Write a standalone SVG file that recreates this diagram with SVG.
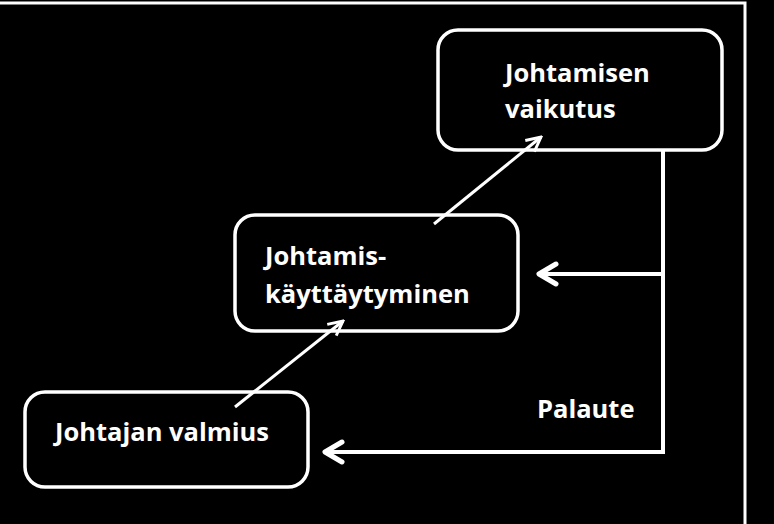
<svg xmlns="http://www.w3.org/2000/svg" width="774" height="524" viewBox="0 0 774 524">
<style>
.box{fill:#000;stroke:#fff;stroke-width:3.5}
.t{font-family:"Open Sans","Liberation Sans",sans-serif;font-weight:bold;font-size:25.5px;fill:#fff}
.c{fill:none;stroke:#fff;stroke-width:3}
.fb{fill:none;stroke:#fff;stroke-width:4}
.hd{fill:none;stroke:#fff;stroke-width:5;stroke-linecap:round;stroke-linejoin:round}
</style>
<defs>
<marker id="a" viewBox="0 0 10 10" refX="9" refY="5" markerWidth="6" markerHeight="6" orient="auto"><path d="M1,1 L9,5 L1,9" fill="none" stroke="#fff" stroke-width="1.6"/></marker>
</defs>
<rect width="774" height="524" fill="#000"/>
<path d="M0,3 H745 V524" fill="none" stroke="#fff" stroke-width="3"/>
<g id="n1"><rect class="box" x="438" y="30" width="284" height="120" rx="20"/>
<text class="t" x="505" y="82">Johtamisen</text><text class="t" x="505" y="118">vaikutus</text></g>
<g id="n2"><rect class="box" x="235" y="215" width="283" height="116" rx="20"/>
<text class="t" x="265" y="265">Johtamis-</text><text class="t" x="265" y="303">käyttäytyminen</text></g>
<g id="n3"><rect class="box" x="25" y="392" width="283" height="95" rx="20"/>
<text class="t" x="55" y="441">Johtajan valmius</text></g>
<text class="t" x="537" y="418">Palaute</text>
<g id="connectors">
<line class="c" x1="235" y1="407" x2="343" y2="321" marker-end="url(#a)"/>
<line class="c" x1="434" y1="224" x2="541" y2="137" marker-end="url(#a)"/>
<path class="fb" d="M663,150 V452 H326"/>
<path class="hd" d="M342,442 L325,452 L342,462"/>
<path class="fb" d="M663,274 H540"/>
<path class="hd" d="M556,264 L539,274 L556,284"/>
</g>
</svg>
